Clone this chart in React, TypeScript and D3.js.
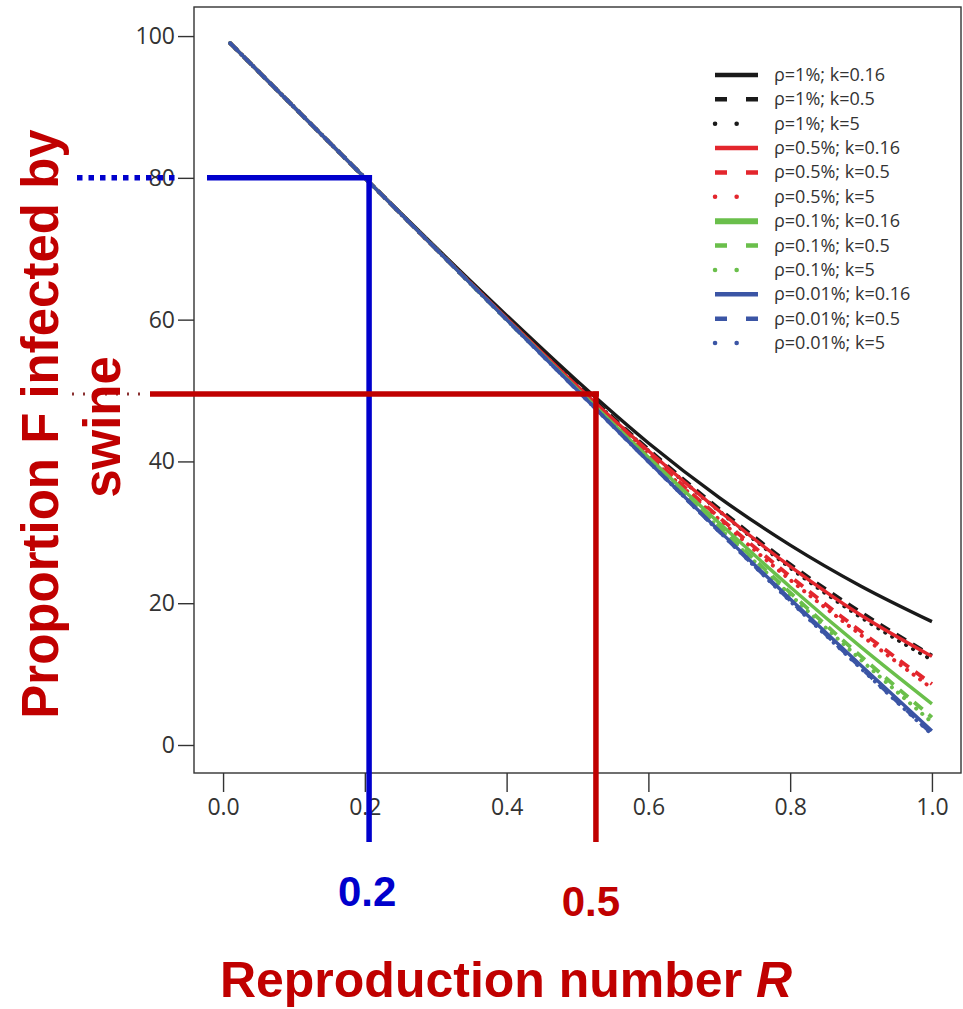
import { useEffect, useRef } from "react";
import * as d3 from "d3";

// reproduction number R (x) and proportion F (%) infected by swine (y)
const R_VALUES = [0.01, 0.1, 0.2, 0.3, 0.4, 0.5, 0.6, 0.7, 0.8, 0.9, 1.0];

const F_RHO1_K016 = [99, 90, 80, 70.2, 60.6, 51.3, 42.6, 34.9, 28.2, 22.4, 17.4];
const F_RHO1_K05 = [99, 90, 80, 70.1, 60.3, 50.8, 41.7, 33.3, 25.5, 18.7, 12.6];
const F_RHO1_K5 = [99, 90, 80, 70.1, 60.3, 50.7, 41.5, 33.0, 25.0, 18.0, 12.0];
const F_RHO05_K016 = [99, 90, 80, 70, 60.2, 50.6, 41.5, 33.0, 25.2, 18.3, 12.5];
const F_RHO05_K05 = [99, 90, 80, 70, 60.1, 50.4, 41.0, 32.1, 23.8, 16.0, 8.6];
const F_RHO05_K5 = [99, 90, 80, 70, 60.1, 50.3, 40.8, 31.8, 23.3, 15.5, 8.0];
const F_RHO01_K016 = [99, 90, 80, 70, 60, 50.2, 40.6, 31.3, 22.3, 13.8, 5.8];
const F_RHO01_K05 = [99, 90, 80, 70, 60, 50.1, 40.3, 30.8, 21.5, 12.5, 3.9];
const F_RHO01_K5 = [99, 90, 80, 70, 60, 50.1, 40.2, 30.6, 21.2, 12.0, 3.2];
const F_RHO001_K016 = [99, 90, 80, 70, 60, 50, 40, 30.2, 20.6, 11.2, 2.0];
const F_RHO001_K05 = [99, 90, 80, 70, 60, 50, 40, 30.1, 20.4, 10.9, 1.6];
const F_RHO001_K5 = [99, 90, 80, 70, 60, 50, 40, 30.1, 20.3, 10.8, 1.5];

const SERIES_LABELS = [
  "ρ=1%; k=0.16", "ρ=1%; k=0.5", "ρ=1%; k=5",
  "ρ=0.5%; k=0.16", "ρ=0.5%; k=0.5", "ρ=0.5%; k=5",
  "ρ=0.1%; k=0.16", "ρ=0.1%; k=0.5", "ρ=0.1%; k=5",
  "ρ=0.01%; k=0.16", "ρ=0.01%; k=0.5", "ρ=0.01%; k=5",
];
const SERIES_VALUES = [
  F_RHO1_K016, F_RHO1_K05, F_RHO1_K5,
  F_RHO05_K016, F_RHO05_K05, F_RHO05_K5,
  F_RHO01_K016, F_RHO01_K05, F_RHO01_K5,
  F_RHO001_K016, F_RHO001_K05, F_RHO001_K5,
];

const X_TICKS = [0, 0.2, 0.4, 0.6, 0.8, 1.0];
const Y_TICKS = [0, 20, 40, 60, 80, 100];

// annotation guide values (where the guides were drawn)
const GUIDE_BLUE = { r: 0.206, f: 80, label: "0.2" };
const GUIDE_RED = { r: 0.526, f: 49.5, label: "0.5" };

const COLORS = ["#1a1a1a", "#e3262d", "#6abf4b", "#3b55a5"];
const DASHES = ["none", "dash", "dot"];

const W = 963, H = 1009;
const BOX = { l: 194, r: 961, t: 7, b: 773 };

export default function App() {
  const xAxisRef = useRef<SVGGElement | null>(null);
  const yAxisRef = useRef<SVGGElement | null>(null);

  const x = d3.scaleLinear().domain([-0.041, 1.041]).range([BOX.l, BOX.r]);
  const y = d3.scaleLinear().domain([-3.95, 104.1]).range([BOX.b, BOX.t]);

  useEffect(() => {
    const ax = d3.axisBottom(x).tickValues(X_TICKS).tickSize(19).tickPadding(7).tickFormat(d3.format(".1f") as any);
    const ay = d3.axisLeft(y).tickValues(Y_TICKS).tickSize(16).tickPadding(3).tickFormat(d3.format("d") as any);
    const style = (g: d3.Selection<SVGGElement, unknown, null, undefined>) => {
      g.select(".domain").remove();
      g.selectAll("line").attr("stroke", "#333").attr("stroke-width", 1.4);
      g.selectAll("text")
        .attr("fill", "#333")
        .attr("font-size", 23)
        .attr("font-family", "'Open Sans', sans-serif");
    };
    d3.select(xAxisRef.current!).call(ax as any).call(style as any);
    d3.select(yAxisRef.current!).call(ay as any).call(style as any);
  }, []);

  const line = d3.line<number>()
    .x((_, i) => x(R_VALUES[i]))
    .y(d => y(d))
    .curve(d3.curveMonotoneX);

  const plotDash = (t: string) => (t === "dash" ? "11 8" : t === "dot" ? "0.1 8" : undefined);
  const legendDash = (t: string) => (t === "dash" ? "12 19" : t === "dot" ? "0.1 21.5" : undefined);

  const legendY = d3.scaleLinear().domain([0, 11]).range([75, 343]);

  const red = "#c00000";
  const blue = "#0000cc";

  return (
    <svg width={W} height={H} style={{ position: "absolute", left: 0, top: 0, background: "#fff" }}>
      <rect x={BOX.l} y={BOX.t} width={BOX.r - BOX.l} height={BOX.b - BOX.t} fill="none" stroke="#333" strokeWidth={1.4} />
      <g ref={xAxisRef} transform={`translate(0,${BOX.b})`} />
      <g ref={yAxisRef} transform={`translate(${BOX.l},0)`} />

      {/* curves */}
      <g fill="none">
        {SERIES_VALUES.map((vals, i) => {
          const c = COLORS[Math.floor(i / 3)];
          const t = DASHES[i % 3];
          return (
            <path
              key={i}
              d={line(vals) ?? ""}
              stroke={c}
              strokeWidth={t === "none" ? 3.4 : t === "dash" ? 3.8 : 4}
              strokeDasharray={plotDash(t)}
              strokeLinecap={t === "dot" ? "round" : "butt"}
            />
          );
        })}
      </g>

      {/* legend */}
      <g>
        {SERIES_LABELS.map((lab, i) => {
          const c = COLORS[Math.floor(i / 3)];
          const t = DASHES[i % 3];
          const ly = legendY(i);
          return (
            <g key={lab}>
              <line
                x1={715} x2={758} y1={ly} y2={ly}
                stroke={c}
                strokeWidth={t === "dot" ? 4.5 : c === COLORS[2] && t === "none" ? 6 : 4.5}
                strokeDasharray={legendDash(t)}
                strokeLinecap={t === "dot" ? "round" : "butt"}
              />
              <text x={774} y={ly + 6} fontSize={18} fill="#333" fontFamily="'Open Sans', sans-serif">{lab}</text>
            </g>
          );
        })}
      </g>

      {/* guide lines */}
      <g strokeWidth={5.5} fill="none">
        <line x1={77} x2={176} y1={y(GUIDE_BLUE.f)} y2={y(GUIDE_BLUE.f)} stroke={blue} strokeDasharray="5.5 6" />
        <line x1={207} x2={x(GUIDE_BLUE.r) + 3} y1={y(GUIDE_BLUE.f)} y2={y(GUIDE_BLUE.f)} stroke={blue} />
        <line x1={x(GUIDE_BLUE.r)} x2={x(GUIDE_BLUE.r)} y1={y(GUIDE_BLUE.f) - 2.7} y2={842} stroke={blue} />
        <line x1={72} x2={140} y1={y(GUIDE_RED.f)} y2={y(GUIDE_RED.f)} stroke="#8a3030" strokeWidth={3} strokeDasharray="2 9" />
        <line x1={150} x2={x(GUIDE_RED.r) + 3} y1={y(GUIDE_RED.f)} y2={y(GUIDE_RED.f)} stroke={red} />
        <line x1={x(GUIDE_RED.r)} x2={x(GUIDE_RED.r)} y1={y(GUIDE_RED.f) - 2.7} y2={842} stroke={red} />
      </g>

      {/* guide labels */}
      <text x={x(GUIDE_BLUE.r) - 2} y={906} textAnchor="middle" fill={blue} fontSize={42} fontWeight="bold" fontFamily="'Liberation Sans', Arial, sans-serif">{GUIDE_BLUE.label}</text>
      <text x={x(GUIDE_RED.r) - 5} y={916} textAnchor="middle" fill={red} fontSize={42} fontWeight="bold" fontFamily="'Liberation Sans', Arial, sans-serif">{GUIDE_RED.label}</text>

      {/* axis titles */}
      <text
        transform={`translate(58,424) rotate(-90)`}
        textAnchor="middle" fill={red} fontSize={51} fontWeight="bold"
        fontFamily="'Liberation Sans', Arial, sans-serif"
      >Proportion F infected by</text>
      <text
        transform={`translate(120,427) rotate(-90)`}
        textAnchor="middle" fill={red} fontSize={51} fontWeight="bold"
        fontFamily="'Liberation Sans', Arial, sans-serif"
      >swine</text>
      <text x={506} y={997} textAnchor="middle" fill={red} fontSize={50} fontWeight="bold" fontFamily="'Liberation Sans', Arial, sans-serif">
        Reproduction number <tspan fontStyle="italic">R</tspan>
      </text>
    </svg>
  );
}
